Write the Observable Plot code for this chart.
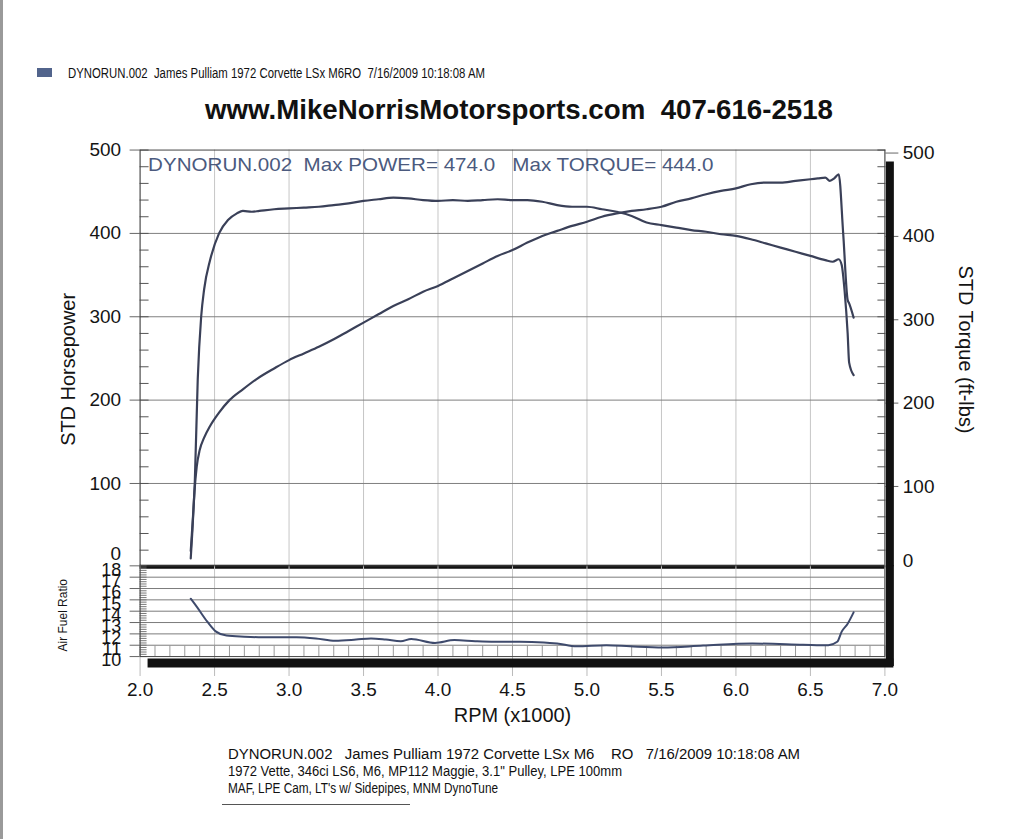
<!DOCTYPE html>
<html>
<head>
<meta charset="utf-8">
<script src="https://cdn.jsdelivr.net/npm/d3@7"></script>
<script src="https://cdn.jsdelivr.net/npm/@observablehq/plot@0.6"></script>
<style>
html,body{margin:0;padding:0;background:#fff;}
body{width:1024px;height:839px;overflow:hidden;font-family:"Liberation Sans",Arial,sans-serif;}
#wrap{position:relative;width:1024px;height:839px;border-left:3px solid #9a9a9a;box-sizing:border-box;}
.abs{position:absolute;white-space:pre;line-height:1;transform-origin:0 50%;color:#111;}
#wrap svg{position:absolute;left:-3px;top:0;}
svg text{white-space:pre;}
</style>
</head>
<body>
<div id="wrap"></div>
<script>
// ---------- data read from the dyno sheet ----------
const rpmTorque = [2.34,2.355,2.367,2.387,2.41,2.43,2.47,2.53,2.59,2.65,2.69,2.75,2.80,2.90,3.00,3.10,3.20,3.30,3.40,3.50,3.60,3.70,3.80,3.90,4.00,4.10,4.20,4.30,4.40,4.50,4.60,4.70,4.80,4.90,5.00,5.10,5.20,5.30,5.40,5.50,5.60,5.70,5.80,5.90,6.00,6.10,6.20,6.30,6.40,6.50,6.60,6.65,6.69,6.71,6.73,6.75,6.76,6.79];
const torque = [19,60,100,225,300,333,368,400,416,424,427,426,427,429,430,431,432,434,436,439,441,443,442,440,439,440,439,440,441,440,440,438,434,432,432,429,426,421,413,410,407,404,402,399,397,393,388,383,378,373,368,366,369,362,330,280,245,230];

const rpmPower = [2.34,2.35,2.365,2.38,2.40,2.43,2.47,2.53,2.60,2.69,2.78,2.90,3.00,3.10,3.20,3.30,3.40,3.50,3.60,3.70,3.80,3.90,4.00,4.10,4.20,4.30,4.40,4.50,4.60,4.70,4.80,4.90,5.00,5.10,5.20,5.30,5.40,5.50,5.60,5.70,5.80,5.90,6.00,6.10,6.20,6.30,6.40,6.50,6.55,6.60,6.63,6.66,6.69,6.72,6.75,6.76,6.79];
const power = [10,40,90,120,140,155,169,185,200,213,225,238,248,256,264,273,283,293,303,313,321,330,337,346,355,364,373,380,389,397,403,409,414,420,424,427,429,432,438,442,447,451,454,459,461,461,463,465,466,467,463,466,471,400,320,316,299];

const rpmAfr = [2.34,2.38,2.45,2.51,2.58,2.70,2.82,3.05,3.18,3.31,3.45,3.55,3.65,3.75,3.82,3.98,4.11,4.25,4.38,4.55,4.71,4.80,4.93,5.13,5.29,5.51,5.78,6.11,6.45,6.62,6.68,6.71,6.75,6.79];
const afr = [15.1,14.4,13.1,12.2,11.85,11.75,11.7,11.7,11.6,11.4,11.5,11.6,11.5,11.35,11.55,11.2,11.45,11.35,11.3,11.3,11.25,11.15,10.9,11.0,10.9,10.8,10.97,11.15,11.05,11.0,11.3,12.2,12.9,13.9];

const rpmTicks = [2.0,2.5,3.0,3.5,4.0,4.5,5.0,5.5,6.0,6.5,7.0];
const rpmMinorTicks = [2.0,2.1,2.2,2.3,2.4,2.5,2.6,2.7,2.8,2.9,3.0,3.1,3.2,3.3,3.4,3.5,3.6,3.7,3.8,3.9,4.0,4.1,4.2,4.3,4.4,4.5,4.6,4.7,4.8,4.9,5.0,5.1,5.2,5.3,5.4,5.5,5.6,5.7,5.8,5.9,6.0,6.1,6.2,6.3,6.4,6.5,6.6,6.7,6.8,6.9,7.0];
const powerTicks = [100,200,300,400,500];
const powerGrid = [100,200,300,400];
const powerMinorTicks = d3.range(0, 501, 20);
const afrTicks = [10,11,12,13,14,15,16,17,18];
const afrGrid = [11,12,13,14,15,16,17];
const afrMinorTicks = d3.range(10, 18.001, 0.2);

const legendText = "DYNORUN.002  James Pulliam 1972 Corvette LSx M6RO  7/16/2009 10:18:08 AM";
const titleText = "www.MikeNorrisMotorsports.com  407-616-2518";
const plotNote = "DYNORUN.002  Max POWER= 474.0   Max TORQUE= 444.0";
const captionLines = [
  "DYNORUN.002   James Pulliam 1972 Corvette LSx M6    RO   7/16/2009 10:18:08 AM",
  "1972 Vette, 346ci LS6, M6, MP112 Maggie, 3.1\" Pulley, LPE 100mm",
  "MAF, LPE Cam, LT's w/ Sidepipes, MNM DynoTune"
];

// ---------- build tables ----------
const torqueData = rpmTorque.map((r, i) => ({rpm: r, v: torque[i]}));
const powerData = rpmPower.map((r, i) => ({rpm: r, v: power[i]}));
const afrData = rpmAfr.map((r, i) => ({rpm: r, v: afr[i]}));

const FONT = '"Liberation Sans", Arial, sans-serif';
const INK = "#141414";
const CURVE = "#3a4058";
const wrap = document.getElementById("wrap");

// ---------- main panel (power / torque) ----------
const p1 = Plot.plot({
  width: 1024, height: 600,
  marginTop: 150, marginBottom: 32, marginLeft: 140, marginRight: 137,
  style: {background: "transparent", overflow: "visible", fontFamily: FONT, color: INK},
  x: {domain: [2, 7], label: null, axis: null},
  y: {domain: [0, 500], label: null, axis: null},
  marks: [
    Plot.gridX(rpmTicks, {stroke: "#c6c6c6", strokeOpacity: 1}),
    Plot.gridY(powerGrid, {stroke: "#808080", strokeOpacity: 1}),
    Plot.axisY(powerMinorTicks, {anchor: "left", tickSize: -9, fill: "none", stroke: "#555"}),
    Plot.axisY(powerMinorTicks, {anchor: "right", tickSize: -8, fill: "none", stroke: "#555"}),
    Plot.axisY(powerTicks, {anchor: "left", tickSize: 10, tickPadding: 9, fontSize: 19, stroke: "#666", fill: INK}),
    Plot.axisY([0], {anchor: "left", tickSize: 0, tickPadding: 19, dy: -13, fontSize: 19, fill: INK}),
    Plot.axisY(powerTicks, {anchor: "right", tickSize: 13, tickPadding: 5, dy: 3, fontSize: 19, stroke: "#666", fill: INK}),
    Plot.axisY([0], {anchor: "right", tickSize: 0, tickPadding: 18, dy: -6, fontSize: 19, fill: INK}),
    Plot.frame({stroke: "#444"}),
    Plot.line(powerData, {x: "rpm", y: "v", stroke: CURVE, strokeWidth: 2.2, curve: "monotone-x"}),
    Plot.line(torqueData, {x: "rpm", y: "v", stroke: CURVE, strokeWidth: 2.2, curve: "monotone-x"}),
    Plot.ruleY([0], {stroke: "#111", strokeWidth: 4}),
    Plot.ruleX([7], {stroke: "#111", strokeWidth: 8, dx: 5, insetTop: 12}),
    Plot.text([plotNote], {text: d => d, frameAnchor: "top-left", dx: 8, dy: 15, textAnchor: "start", lineAnchor: "middle", fontSize: 19, fill: "#4b5a7e"}),
    Plot.text(["STD Horsepower"], {text: d => d, frameAnchor: "left", textAnchor: "middle", lineAnchor: "middle", rotate: -90, dx: -72, dy: 11, fontSize: 20, fill: INK}),
    Plot.text(["STD Torque (ft-lbs)"], {text: d => d, frameAnchor: "right", textAnchor: "middle", lineAnchor: "middle", rotate: 90, dx: 81, dy: -9, fontSize: 20, fill: INK})
  ]
});
wrap.appendChild(p1);

// ---------- air/fuel panel ----------
const p2 = Plot.plot({
  width: 1024, height: 740,
  marginTop: 567, marginBottom: 82, marginLeft: 140, marginRight: 137,
  style: {background: "transparent", overflow: "visible", fontFamily: FONT, color: INK},
  x: {domain: [2, 7], label: null, axis: null},
  y: {domain: [10, 18], label: null, axis: null},
  marks: [
    Plot.gridX(rpmTicks, {stroke: "#c6c6c6", strokeOpacity: 1}),
    Plot.gridY(afrGrid, {stroke: "#7a7a7a", strokeOpacity: 1}),
    Plot.axisX(rpmMinorTicks, {anchor: "bottom", tickSize: -11, fill: "none", stroke: "#9a9a9a"}),
    Plot.axisY(afrMinorTicks, {anchor: "left", tickSize: -7, fill: "none", stroke: "#777"}),
    Plot.axisY(afrTicks, {anchor: "left", tickSize: 10, fill: "none", stroke: "#666"}),
    Plot.axisY(afrTicks, {anchor: "left", tickSize: 0, tickPadding: 19, dy: 4, fontSize: 18, fill: INK}),
    Plot.axisX(rpmTicks, {anchor: "bottom", tickSize: 20, tickPadding: 6, fontSize: 19, tickFormat: d3.format(".1f"), stroke: "#bbb", fill: INK}),
    Plot.frame({stroke: "#444"}),
    Plot.line(afrData, {x: "rpm", y: "v", stroke: "#3e4a6c", strokeWidth: 2, curve: "monotone-x"}),
    Plot.ruleX([7], {stroke: "#111", strokeWidth: 8, dx: 5, insetBottom: -10}),
    Plot.ruleY([10], {stroke: "#111", strokeWidth: 9, dy: 6.5, insetLeft: 8, insetRight: -9}),
    Plot.text(["RPM (x1000)"], {text: d => d, frameAnchor: "bottom", textAnchor: "middle", lineAnchor: "middle", dy: 59, fontSize: 20, fill: INK}),
    Plot.text(["Air Fuel Ratio"], {text: d => d, frameAnchor: "left", textAnchor: "middle", lineAnchor: "middle", rotate: -90, dx: -77, dy: 4, fontSize: 12, fill: INK})
  ]
});
wrap.appendChild(p2);

// fit the in-plot note to its width on the sheet
for (const t of p1.querySelectorAll("text")) {
  if (t.textContent.startsWith("DYNORUN")) {
    t.setAttribute("textLength", 567);
    t.setAttribute("lengthAdjust", "spacingAndGlyphs");
  }
}

// ---------- header and caption (HTML text) ----------
function addText(str, left, cy, size, width, weight) {
  const d = document.createElement("div");
  d.className = "abs";
  d.textContent = str;
  d.style.left = (left - 3) + "px";
  d.style.top = (cy - 0.49 * size) + "px";
  d.style.fontSize = size + "px";
  d.style.fontWeight = weight || 400;
  wrap.appendChild(d);
  const w = d.getBoundingClientRect().width;
  if (width && w > 0) d.style.transform = `scaleX(${width / w})`;
  return d;
}
const sw = document.createElement("div");
sw.style.cssText = "position:absolute;left:34px;top:68px;width:15px;height:9px;background:#52648c;";
wrap.appendChild(sw);
addText(legendText, 68, 73, 14, 417);
addText(titleText, 205, 110, 27, 628, 700);
addText(captionLines[0], 228, 754, 14, 572);
addText(captionLines[1], 228, 771, 14, 394);
addText(captionLines[2], 228, 788, 14, 270);
const ul = document.createElement("div");
ul.style.cssText = "position:absolute;left:219px;top:804px;width:188px;height:1px;background:#555;";
wrap.appendChild(ul);
</script>
</body>
</html>
